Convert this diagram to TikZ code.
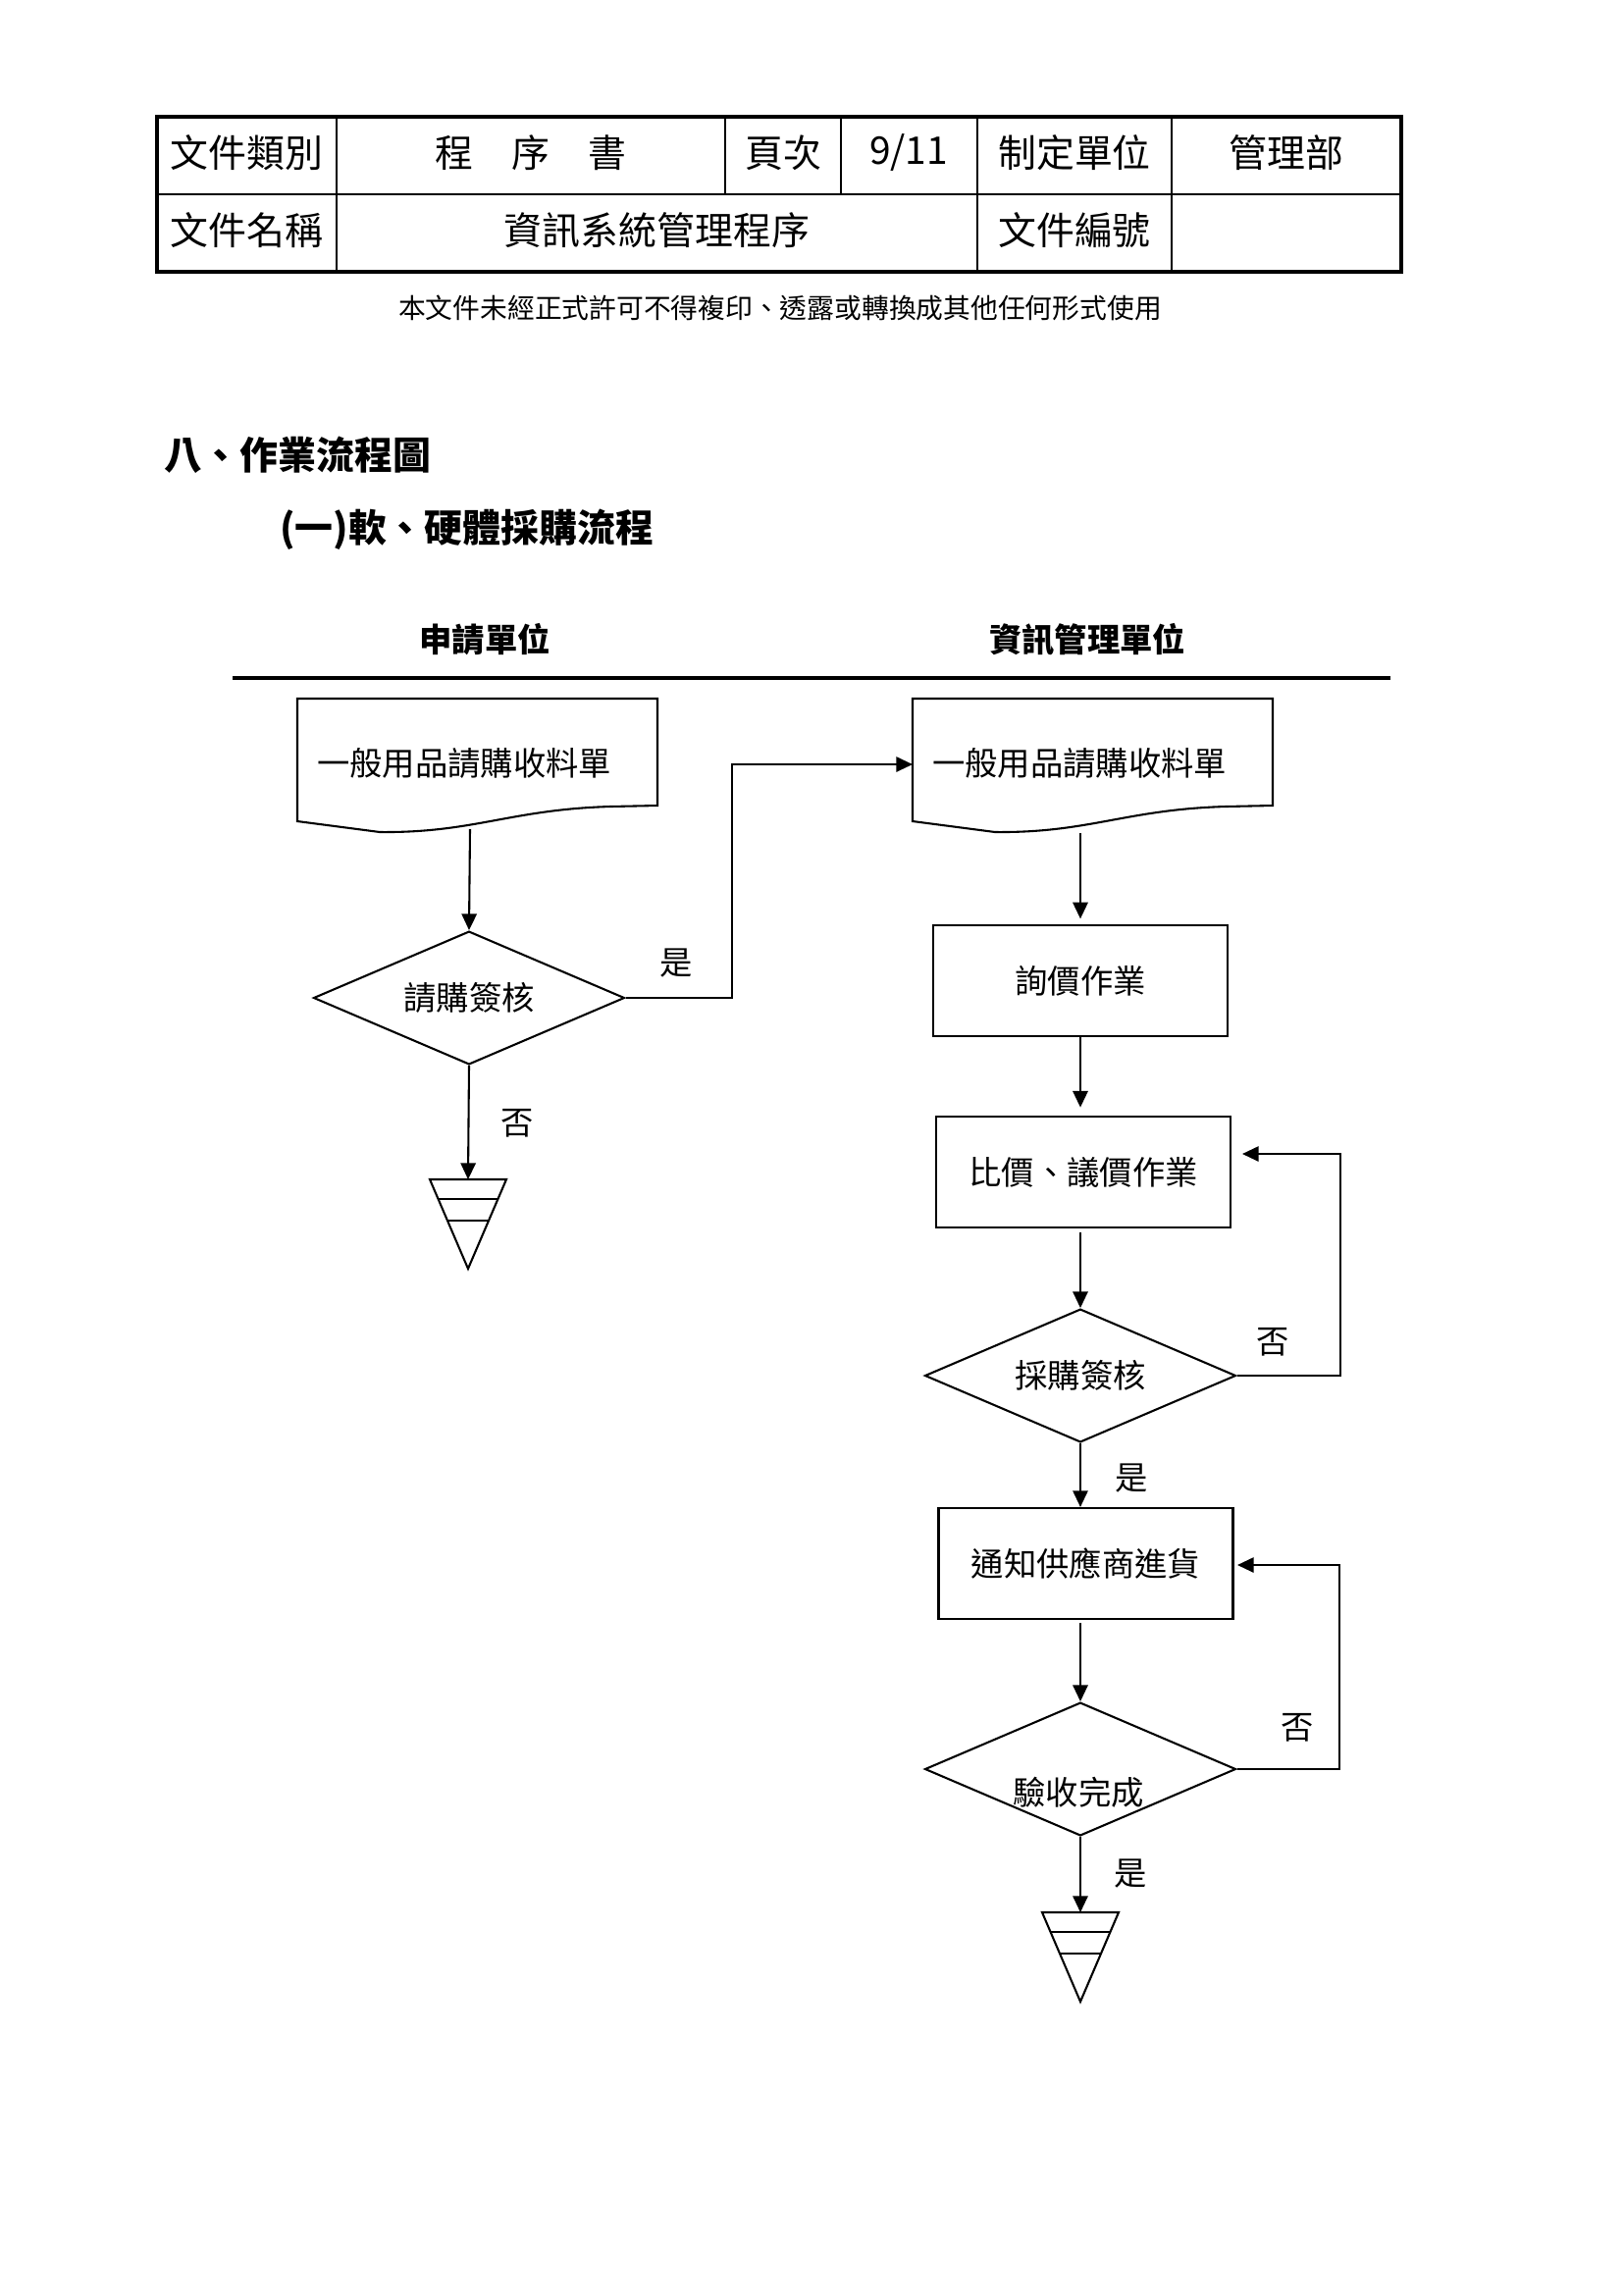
\documentclass[tikz,border=0pt]{standalone}
\usepackage{fontspec}
\setmainfont{Noto Sans CJK TC}
\usetikzlibrary{shapes.geometric,arrows.meta}

\newcommand\docpath[3]{% left, right, top
  \draw (#1,#3) -- (#2,#3) -- (#2,#3+109) -- (#2-48,#3+110)
    .. controls (#2-150,#3+113) and (#1+180,#3+137) .. (#1+84,#3+136)
    -- (#1,#3+125) -- cycle;}
\newcommand\termsym[2]{% top centre x, y
  \draw (#1-39,#2) -- (#1+39,#2) -- (#1,#2+91) -- cycle;
  \draw (#1-30.4,#2+20) -- (#1+30.4,#2+20);
  \draw (#1-21,#2+42) -- (#1+21,#2+42);}

\begin{document}
\begin{tikzpicture}[x=0.36pt,y=-0.36pt,
  line width=0.75pt,
  every node/.style={inner sep=0pt},
  arr/.style={-{Triangle[length=6pt,width=5.5pt]}},
  t12/.style={font=\fontsize{12pt}{14pt}\selectfont},
  t14/.style={font=\fontsize{14pt}{16pt}\selectfont},
  procbox/.style={draw, rectangle, t12, minimum width=108pt, minimum height=40.7pt},
  decision/.style={draw, diamond, aspect=2.35, t12, minimum width=114.1pt, minimum height=48.9pt},
  tableline/.style={line width=0.6pt},
]
\useasboundingbox[fill=white] (0,0) rectangle (1654,2339);

% ---------- header table ----------
\draw[tableline] (160,198) -- (1428,198);
\draw[tableline] (343,119) -- (343,277);
\draw[tableline] (739,119) -- (739,198);
\draw[tableline] (857,119) -- (857,198);
\draw[tableline] (996,119) -- (996,277);
\draw[tableline] (1194,119) -- (1194,277);
\draw[line width=1.3pt] (160,119) rectangle (1428,277);

\node[t14] (c11) at (251.5,156) {文件類別};
\node[t14] (c12) at (541,156) {程　序　書};
\node[t14] (c13) at (798,156) {頁次};
\node[t14] (c14) at (926,156) {9/11};
\node[t14] (c15) at (1095,156) {制定單位};
\node[t14] (c16) at (1311,156) {管理部};
\node[t14] (c21) at (251.5,235) {文件名稱};
\node[t14] (c22) at (669.5,235) {資訊系統管理程序};
\node[t14] (c25) at (1095,235) {文件編號};

\node[font=\fontsize{10pt}{12pt}\selectfont] (note) at (795,314)
  {本文件未經正式許可不得複印、透露或轉換成其他任何形式使用};

% ---------- headings ----------
\node[font=\fontsize{14pt}{16pt}\selectfont\bfseries, anchor=west] (h1) at (166,464) {八、作業流程圖};
\node[font=\fontsize{14pt}{16pt}\selectfont\bfseries, anchor=west] (h2) at (284,540) {(一)軟、硬體採購流程};

\node[font=\fontsize{12pt}{14pt}\selectfont\bfseries] (lane1) at (494,652) {申請單位};
\node[font=\fontsize{12pt}{14pt}\selectfont\bfseries] (lane2) at (1108,652) {資訊管理單位};
\draw[line width=1.5pt] (237,691) -- (1417,691);

% ---------- left lane ----------
\docpath{303}{670}{712}
\node[t12] (ldoc) at (473,778) {一般用品請購收料單};
\coordinate (ldocb) at (479,845);

\node[decision] (ldia) at (478,1017) {請購簽核};
\draw[arr] (ldocb) -- (ldia.north);

\coordinate (lend) at (477,1202);
\termsym{477}{1202}
\draw[arr] (ldia.south) -- (lend);
\node[t12] (lno) at (527,1145) {否};

% ---------- right lane ----------
\docpath{930}{1297}{712}
\node[t12] (rdoc) at (1100,778) {一般用品請購收料單};
\coordinate (rdocw) at (930,779);
\coordinate (rdocb) at (1101,849);

\coordinate (j1) at (746,1017);
\draw[arr] (ldia.east) -- (j1) |- (rdocw);
\node[t12] (lyes) at (689,982) {是};

\node[procbox] (b1) at (1101,999.5) {詢價作業};
\node[procbox] (b2) at (1104,1194.5) {比價、議價作業};
\node[decision] (d1) at (1101,1402) {採購簽核};
\node[procbox] (b3) at (1106.5,1593.5) {通知供應商進貨};
\node[decision] (d2) at (1101,1803) {};
\node[t12] (d2t) at (1099,1827) {驗收完成};

\draw[arr, shorten >=2pt] (rdocb) -- (b1.north);
\draw[arr, shorten >=3pt] (b1.south) -- (b1.south |- b2.north);
\draw[arr, shorten <=1.5pt] (d1.north |- b2.south) -- (d1.north);
\draw[arr] (d1.south) -- (d1.south |- b3.north);
\draw[arr, shorten <=1pt] (d2.north |- b3.south) -- (d2.north);

\coordinate (rend) at (1101,1949);
\termsym{1101}{1949}
\draw[arr] (d2.south) -- (rend);

% feedback loops
\coordinate (k1) at (1366,1402);
\coordinate (k2) at (1366,1176);
\coordinate (fb1) at (1266,1176);
\draw[arr] (d1.east) -- (k1) -- (k2) -- (fb1);

\coordinate (k3) at (1365,1803);
\coordinate (k4) at (1365,1595);
\coordinate (fb2) at (1261,1595);
\draw[arr] (d2.east) -- (k3) -- (k4) -- (fb2);

\node[t12] (no1) at (1297,1368) {否};
\node[t12] (yes1) at (1153,1507) {是};
\node[t12] (no2) at (1322,1761) {否};
\node[t12] (yes2) at (1152,1910) {是};
\end{tikzpicture}
\end{document}
